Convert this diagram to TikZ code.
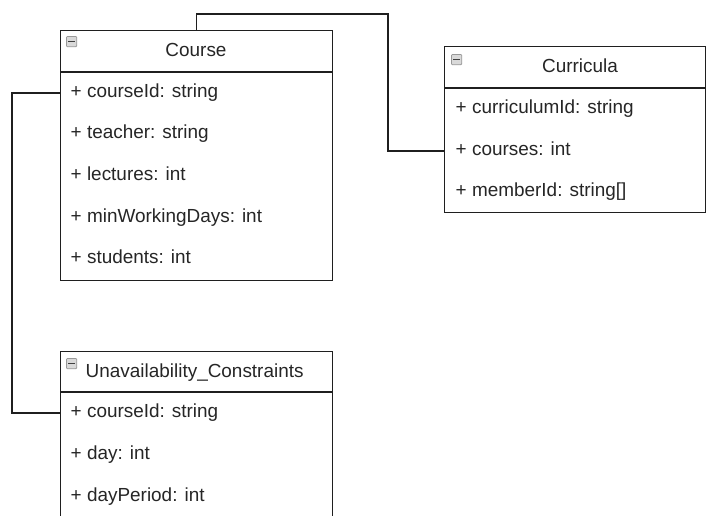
\documentclass[tikz,border=0pt]{standalone}
\usepackage{fontspec}
\setmainfont{Liberation Sans}
\begin{document}
\begin{tikzpicture}[x=0.75pt,y=-0.75pt,
  line width=1.1pt,
  classbox/.style={draw=black!88, fill=white, anchor=north west, inner sep=0pt},
  title/.style={font=\fontsize{14.2}{16}\selectfont, text=black!85, inner sep=0pt,
                text height=7.3pt, text depth=0pt},
  attr/.style={font=\fontsize{14.2}{16}\selectfont, text=black!85, anchor=west, inner sep=0pt,
               text height=7.3pt, text depth=0pt},
  conn/.style={draw=black!88, line width=1.1pt},
  icon/.style={draw=black!40, fill=black!15, rounded corners=0.8pt, line width=0.6pt,
               minimum size=7.8pt, inner sep=0pt, anchor=north west},
  minus/.style={draw=black!75, line width=1.3pt}]
\useasboundingbox (0,0) rectangle (707,515);
\clip (0,0) rectangle (707,515);

% ---- Course ----
\node[classbox, minimum width=204pt, minimum height=187.5pt] (course) at (60,30) {};
\draw[black!88] (60,72) -- (332,72);
\node[icon] (courseicon) at (66,36) {};
\draw[minus] ([xshift=2.4pt]courseicon.center) -- ([xshift=-2.4pt]courseicon.center);
\node[title] (coursetitle) at (196,52) {Course};
\node[attr] (c1) at (70,93) {+ courseId: string};
\node[attr] (c2) at (70,134) {+ teacher: string};
\node[attr] (c3) at (70,176) {+ lectures: int};
\node[attr] (c4) at (70,218) {+ minWorkingDays: int};
\node[attr] (c5) at (70,259) {+ students: int};

% ---- Curricula ----
\node[classbox, minimum width=195.75pt, minimum height=124.5pt] (curricula) at (444,46) {};
\draw[black!88] (444,88) -- (705,88);
\node[icon] (curicon) at (451,54) {};
\draw[minus] ([xshift=2.4pt]curicon.center) -- ([xshift=-2.4pt]curicon.center);
\node[title] (curtitle) at (580,68) {Curricula};
\node[attr] (r1) at (455,109) {+ curriculumId: string};
\node[attr] (r2) at (455,151) {+ courses: int};
\node[attr] (r3) at (455,192) {+ memberId: string[]};

% ---- Unavailability_Constraints ----
\node[classbox, minimum width=204pt, minimum height=150pt] (unav) at (60,351) {};
\draw[black!88] (60,392) -- (332,392);
\node[icon] (unicon) at (66,358) {};
\draw[minus] ([xshift=2.4pt]unicon.center) -- ([xshift=-2.4pt]unicon.center);
\node[title, anchor=west] (untitle) at (85,373) {Unavailability\_Constraints};
\node[attr] (u1) at (70,413) {+ courseId: string};
\node[attr] (u2) at (70,455) {+ day: int};
\node[attr] (u3) at (70,497) {+ dayPeriod: int};

% ---- connectors ----
\coordinate (topbend) at (388,14);
\draw[conn] (course.north) |- (topbend) |- (curricula.west |- r2);
\coordinate (leftbend) at (12,93);
\draw[conn] (course.west |- c1) -- (leftbend) |- (unav.west |- u1);
\end{tikzpicture}
\end{document}
